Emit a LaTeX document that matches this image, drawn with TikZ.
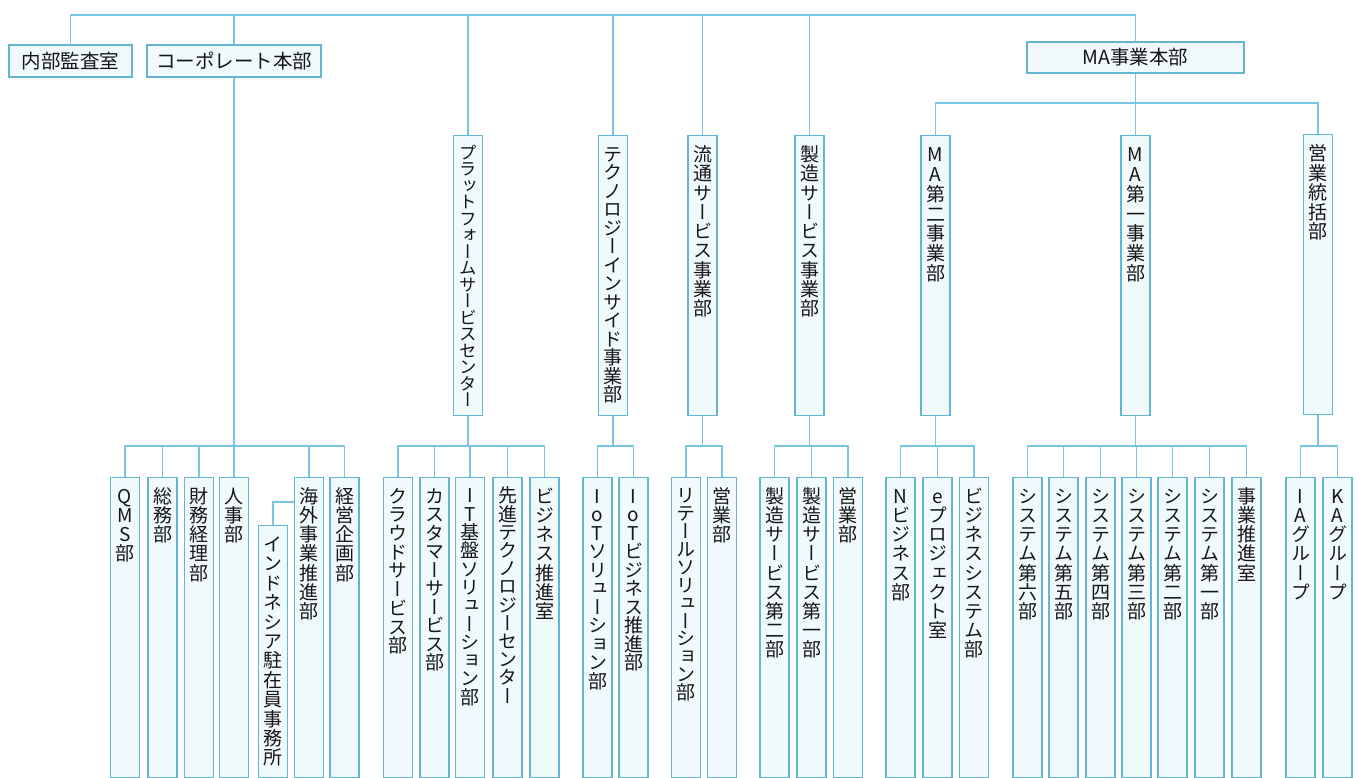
\documentclass[tikz,border=0pt]{standalone}
\usepackage{fontspec}
\newfontfamily\jp{Noto Sans CJK JP}
\newfontfamily\jpv[RawFeature=+vert]{Noto Sans CJK JP}
\definecolor{linec}{RGB}{120,198,228}
\definecolor{boxc}{RGB}{100,180,212}
\definecolor{fillc}{RGB}{240,249,252}
\definecolor{textc}{RGB}{22,22,22}
\makeatletter
\newdimen\tatepitch
\def\tate@end{\tate@end@}
\def\tate@char#1{\setbox0\hbox to 20pt{\hss#1\hss}%
  \ht0=\dimexpr .88em+(\tatepitch-1em)/2\relax
  \dp0=\dimexpr .12em+(\tatepitch-1em)/2\relax
  \box0 }
\def\tate@loop#1{\ifx\tate@end#1\else\tate@char{#1}\expandafter\tate@loop\fi}
\newcommand\tate[2]{\tatepitch=#1\relax\vbox{\offinterlineskip\tate@loop#2\tate@end}}
\newcommand\tatein[3][19.2]{\vbox to #2pt{\vskip 9pt\tate{#1pt}{#3}\vss}}
\makeatother
\tikzset{
  basebox/.style={draw=boxc, fill=fillc, line width=1.1pt, inner sep=0pt, text=textc},
  yoko/.style={basebox, minimum height=32, font=\jp\fontsize{19.5}{19.5}\selectfont},
  tatebox/.style={basebox, anchor=north, minimum width=29, font=\jpv\fontsize{19}{19}\selectfont},
  conn/.style={draw=linec, line width=1.2pt},
}
\begin{document}
\begin{tikzpicture}[x=1pt,y=-1pt]
\fill[white] (0,0) rectangle (1359,778);
\useasboundingbox (0,0) rectangle (1359,778);
% top level
\node[yoko, minimum width=123] (naibu) at (70.5,61) {内部監査室};
\node[yoko, minimum width=174] (corp) at (234,61) {コーポレート本部};
\node[yoko, minimum width=217, minimum height=31] (mahq) at (1135.5,57.5) {MA事業本部};
% middle level
\node[tatebox, font=\jpv\fontsize{17.5}{17.5}\selectfont] (plat) at (468,135) {\tatein[16.5]{280}{プラットフォームサービスセンター}};
\node[tatebox] (tech) at (613,135) {\tatein[18.5]{280}{テクノロジーインサイド事業部}};
\node[tatebox] (ryutsu) at (702.5,135) {\tatein[19.3]{280}{流通サービス事業部}};
\node[tatebox] (seizo) at (809.5,135) {\tatein[19.3]{280}{製造サービス事業部}};
\node[tatebox] (ma2) at (935.5,135) {\tatein[19.8]{280}{MA第二事業部}};
\node[tatebox] (ma1) at (1135.5,135) {\tatein[19.8]{280}{MA第一事業部}};
\node[tatebox] (eigyo) at (1318,134) {\tatein[19.5]{280}{営業統括部}};
% bottom level: corporate
\node[tatebox] (qms) at (125,477) {\tatein{300}{QMS部}};
\node[tatebox] (somu) at (162.5,477) {\tatein{300}{総務部}};
\node[tatebox] (zaimu) at (199,477) {\tatein{300}{財務経理部}};
\node[tatebox] (jinji) at (234,477) {\tatein{300}{人事部}};
\node[tatebox] (indo) at (273,525) {\tatein[19.4]{252}{インドネシア駐在員事務所}};
\node[tatebox] (kaigai) at (309,477) {\tatein{300}{海外事業推進部}};
\node[tatebox] (keiei) at (344.5,477) {\tatein{300}{経営企画部}};
% platform
\node[tatebox] (cloud) at (398,477) {\tatein[18.7]{300}{クラウドサービス部}};
\node[tatebox] (cust) at (434.5,477) {\tatein[18.5]{300}{カスタマーサービス部}};
\node[tatebox] (itk) at (470,477) {\tatein[18.3]{300}{IT基盤ソリューション部}};
\node[tatebox] (senshin) at (507.5,477) {\tatein[18.2]{300}{先進テクノロジーセンター}};
\node[tatebox] (bizsui) at (544.5,477) {\tatein{300}{ビジネス推進室}};
% technology inside
\node[tatebox] (iotsol) at (597.5,477) {\tatein[18.5]{300}{IoTソリューション部}};
\node[tatebox] (iotbiz) at (633.5,477) {\tatein[18.5]{300}{IoTビジネス推進部}};
% ryutsu
\node[tatebox] (retail) at (686,477) {\tatein[17.9]{300}{リテールソリューション部}};
\node[tatebox] (reigyo) at (722,477) {\tatein{300}{営業部}};
% seizo
\node[tatebox] (sz2) at (774.5,477) {\tatein{300}{製造サービス第二部}};
\node[tatebox] (sz1) at (811.5,477) {\tatein{300}{製造サービス第一部}};
\node[tatebox] (seigyo) at (848,477) {\tatein{300}{営業部}};
% MA2
\node[tatebox] (nbiz) at (900.5,477) {\tatein{300}{Nビジネス部}};
\node[tatebox] (eproj) at (937.5,477) {\tatein{300}{eプロジェクト室}};
\node[tatebox] (bizsys) at (974,477) {\tatein{300}{ビジネスシステム部}};
% MA1
\node[tatebox] (sys6) at (1027.5,477) {\tatein{300}{システム第六部}};
\node[tatebox] (sys5) at (1063.5,477) {\tatein{300}{システム第五部}};
\node[tatebox] (sys4) at (1100.5,477) {\tatein{300}{システム第四部}};
\node[tatebox] (sys3) at (1136.5,477) {\tatein{300}{システム第三部}};
\node[tatebox] (sys2) at (1172.5,477) {\tatein{300}{システム第二部}};
\node[tatebox] (sys1) at (1209.5,477) {\tatein{300}{システム第一部}};
\node[tatebox] (jigyo) at (1246.5,477) {\tatein{300}{事業推進室}};
% eigyo
\node[tatebox] (ia) at (1300.5,477) {\tatein{300}{IAグループ}};
\node[tatebox] (ka) at (1337.5,477) {\tatein{300}{KAグループ}};
% coordinates
\coordinate (topR) at (1135.5,15);
\coordinate (topY) at (0,15);
\coordinate (busY) at (0,446);
\coordinate (maY) at (0,103);
\coordinate (kaiY) at (0,502);
% top connectors
\draw[conn] (naibu.north) |- (topR) -- (mahq.north);
\foreach \n in {corp,plat,tech,ryutsu,seizo}{
  \draw[conn] (\n.north) -- (\n.north |- topY);
}
\draw[conn] (mahq.south) -- (ma1.north);
\draw[conn] (ma2.north) |- (maY -| eigyo.north) -- (eigyo.north);
% buses
\draw[conn] (corp.south) -- (jinji.north);
\draw[conn] (qms.north) |- (busY -| keiei.north) -- (keiei.north);
\foreach \n in {somu,zaimu,kaigai}{\draw[conn] (\n.north) -- (\n.north |- busY);}
\draw[conn] (kaigai.west |- kaiY) -| (indo.north);
\draw[conn] (plat.south) -- (plat.south |- busY);
\draw[conn] (cloud.north) |- (busY -| bizsui.north) -- (bizsui.north);
\foreach \n in {cust,itk,senshin}{\draw[conn] (\n.north) -- (\n.north |- busY);}
\draw[conn] (tech.south) -- (tech.south |- busY);
\draw[conn] (iotsol.north) |- (busY -| iotbiz.north) -- (iotbiz.north);
\draw[conn] (ryutsu.south) -- (ryutsu.south |- busY);
\draw[conn] (retail.north) |- (busY -| reigyo.north) -- (reigyo.north);
\draw[conn] (seizo.south) -- (seizo.south |- busY);
\draw[conn] (sz2.north) |- (busY -| seigyo.north) -- (seigyo.north);
\draw[conn] (sz1.north) -- (sz1.north |- busY);
\draw[conn] (ma2.south) -- (ma2.south |- busY);
\draw[conn] (nbiz.north) |- (busY -| bizsys.north) -- (bizsys.north);
\draw[conn] (eproj.north) -- (eproj.north |- busY);
\draw[conn] (ma1.south) -- (ma1.south |- busY);
\draw[conn] (sys6.north) |- (busY -| jigyo.north) -- (jigyo.north);
\foreach \n in {sys5,sys4,sys3,sys2,sys1}{\draw[conn] (\n.north) -- (\n.north |- busY);}
\draw[conn] (eigyo.south) -- (eigyo.south |- busY);
\draw[conn] (ia.north) |- (busY -| ka.north) -- (ka.north);
\end{tikzpicture}
\end{document}
